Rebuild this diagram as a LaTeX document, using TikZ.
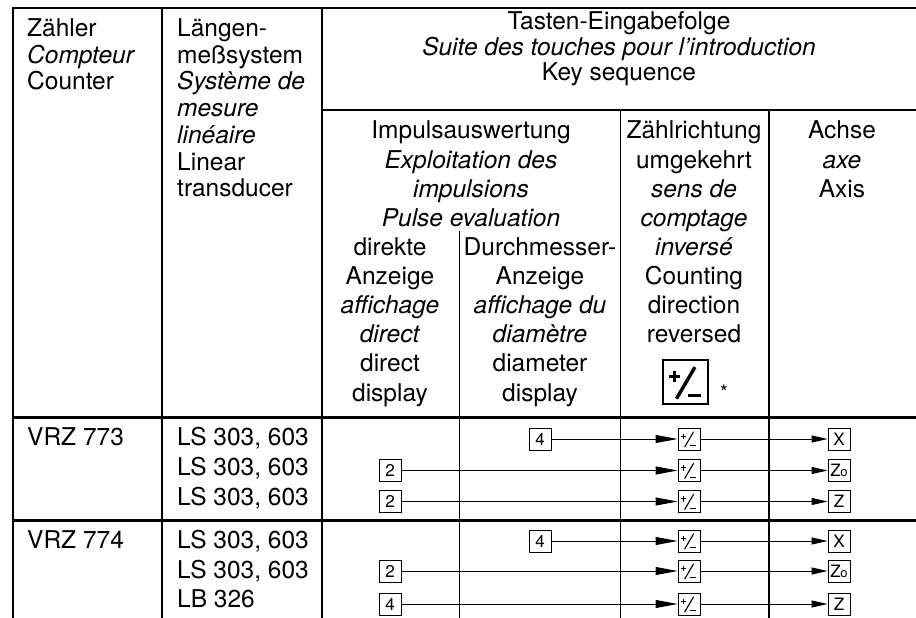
\documentclass[tikz,border=0pt]{standalone}
\usepackage{fontspec}
\setmainfont{TeX Gyre Heros}
\usetikzlibrary{arrows.meta}
\tikzset{
  pmsym/.pic={
    \draw[line cap=butt] (-0.37,-0.12) -- (-0.13,-0.12) (-0.25,-0.24) -- (-0.25,0);
    \draw (-0.2,0.37) -- (0.21,-0.33);
    \draw[line cap=butt] (0.05,0.3) -- (0.34,0.3);
  }
}
\begin{document}
\begin{tikzpicture}[x=1pt,y=-1pt,
  txt/.style={anchor=base, inner sep=0pt, font=\fontsize{24.5}{29}\selectfont},
  txtl/.style={txt, anchor=base west},
  key/.style={draw, line width=0.9pt, minimum width=22pt, minimum height=22pt, inner sep=0pt, font=\fontsize{17}{17}\selectfont},
  conn/.style={line width=0.9pt},
  tipA/.style={-{Triangle[length=22pt,width=8pt]}},
  tipB/.style={-{Triangle[length=16pt,width=7pt]}},
  frame/.style={line width=2.5pt},
  colline/.style={line width=2.2pt},
  thinline/.style={line width=1pt},
  rowline/.style={line width=3pt}
]
\useasboundingbox (0,0) rectangle (916,618);
% frame and grid
\draw[frame] (13,618) -- (13,8) -- (916,8);
\draw[colline] (162,8) -- (162,618);
\draw[colline] (322,8) -- (322,618);
\draw[line width=1.6pt] (322,110) -- (916,110);
\draw[thinline] (620,110) -- (620,618);
\draw[line width=1.2pt] (769,110) -- (769,618);
\draw[line width=0.7pt] (459,231) -- (459,618);
\draw[rowline] (13,417) -- (916,417);
\draw[rowline] (13,520) -- (916,520);

% header column 1
\foreach \t [count=\i] in {Zähler,\textit{Compteur},Counter}
  \node[txtl] (ca\i) at (27,{36.5+(\i-1)*26.7}) {\t};
% header column 2
\foreach \t [count=\i] in {Längen-,meßsystem,\textit{Système de},\textit{mesure},\textit{linéaire},Linear,transducer}
  \node[txtl] (cb\i) at (177,{36.5+(\i-1)*26.7}) {\t};
% key sequence header
\foreach \t [count=\i] in {Tasten-Eingabefolge,\textit{Suite des touches pour l’introduction},Key sequence}
  \node[txt] (ks\i) at (619,{30+(\i-1)*25.5}) {\t};
% Impulsauswertung
\foreach \t [count=\i] in {Impulsauswertung,\textit{Exploitation des},\textit{impulsions},\textit{Pulse evaluation}}
  \node[txt] (im\i) at (471,{139+(\i-1)*29.1}) {\t};
\foreach \t [count=\i] in {direkte,Anzeige,\textit{affichage},\textit{direct},direct,display}
  \node[txt] (dd\i) at (390,{255.5+(\i-1)*29.1}) {\t};
\foreach \t [count=\i] in {Durchmesser-,Anzeige,\textit{affichage du},\textit{diamètre},diameter,display}
  \node[txt] (dm\i) at (540,{255.5+(\i-1)*29.1}) {\t};
% Zaehlrichtung
\foreach \t [count=\i] in {Zählrichtung,umgekehrt,\textit{sens de},\textit{comptage},\textit{inversé},Counting,direction,reversed}
  \node[txt] (zr\i) at (694,{139+(\i-1)*29.1}) {\t};
\node[draw, line width=1.8pt, minimum width=45pt, minimum height=44pt, inner sep=0pt] (bigpm) at (685.5,382) {};
\pic[scale=45, line width=3.4pt] at (bigpm) {pmsym};
\node[inner sep=0pt, font=\fontsize{20}{20}\selectfont] (star) at (724,392) {*};
% Achse
\foreach \t [count=\i] in {Achse,\textit{axe},Axis}
  \node[txt] (ax\i) at (842,{139+(\i-1)*29.1}) {\t};

% body
\node[txtl] (vrz3) at (27,445.5) {VRZ 773};
\node[txtl] (vrz4) at (27,548.5) {VRZ 774};
\node[txtl] (ls1) at (177,445.5) {LS 303, 603};
\node[txtl] (ls2) at (177,475.5) {LS 303, 603};
\node[txtl] (ls3) at (177,505.5) {LS 303, 603};
\node[txtl] (ls4) at (177,548.5) {LS 303, 603};
\node[txtl] (ls5) at (177,578) {LS 303, 603};
\node[txtl] (ls6) at (177,607.5) {LB 326};

% key boxes
\node[key] (k1) at (540,439) {4};
\node[key] (k2) at (390,470.5) {2};
\node[key] (k3) at (390,501.5) {2};
\node[key] (k4) at (540,541) {4};
\node[key] (k5) at (390,571) {2};
\node[key] (k6) at (390,604) {4};
\foreach \i/\y in {1/439,2/470.5,3/501.5,4/541,5/571,6/604}{
  \node[key] (p\i) at (689,\y) {};
  \pic[scale=22, line width=1.1pt] at (p\i) {pmsym};
}
\node[key] (a1) at (839,439) {X};
\node[key] (a2) at (839,470.5) {Z\kern-0.5pt{\fontsize{13}{13}\selectfont o}};
\node[key] (a3) at (839,501.5) {Z};
\node[key] (a4) at (839,541) {X};
\node[key] (a5) at (839,571) {Z\kern-0.5pt{\fontsize{13}{13}\selectfont o}};
\node[key] (a6) at (839,604) {Z};

% connectors
\foreach \i in {1,...,6}{
  \draw[conn, tipA] (k\i) -- (p\i);
  \draw[conn, tipB] (p\i) -- (a\i);
}
\end{tikzpicture}
\end{document}
